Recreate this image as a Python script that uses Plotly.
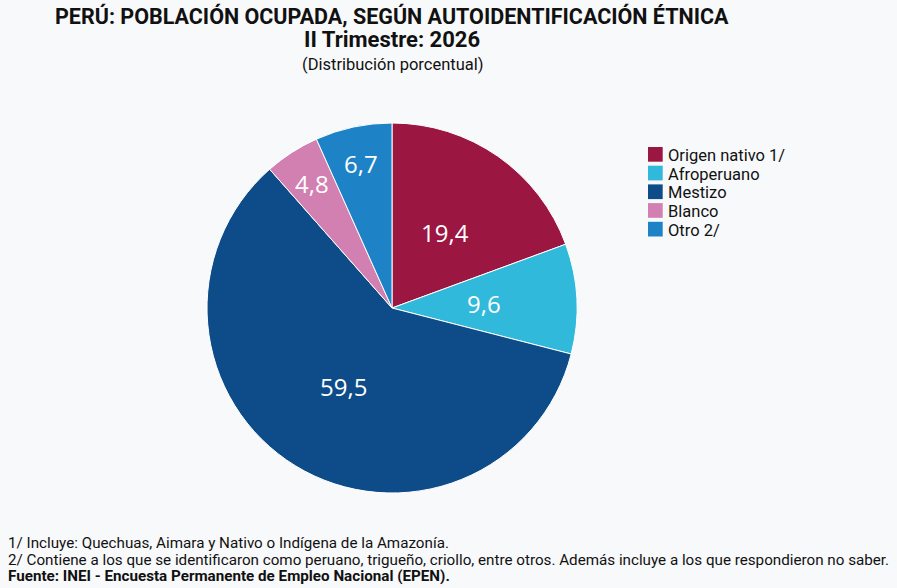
import math
import plotly.graph_objects as go

categorias = ["Origen nativo 1/", "Afroperuano", "Mestizo", "Blanco", "Otro 2/"]
valores = [19.4, 9.6, 59.5, 4.8, 6.7]
colores = ["#9b1641", "#30b9da", "#0d4c88", "#d27fb1", "#1e82c6"]

titulo = "PERÚ: POBLACIÓN OCUPADA, SEGÚN AUTOIDENTIFICACIÓN ÉTNICA"
subtitulo = "II Trimestre: 2026"
unidad = "(Distribución porcentual)"
notas = [
    "1/ Incluye: Quechuas, Aimara y Nativo o Indígena de la Amazonía.",
    "2/ Contiene a los que se identificaron como peruano, trigueño, criollo, entre otros. Además incluye a los que respondieron no saber.",
]
fuente = "Fuente: INEI - Encuesta Permanente de Empleo Nacional (EPEN)."

W, H = 897, 588
cx, cy, r = 392, 308, 185

fig = go.Figure(go.Pie(
    labels=categorias,
    values=valores,
    marker=dict(colors=colores, line=dict(color="white", width=1)),
    sort=False,
    direction="clockwise",
    rotation=0,
    textinfo="none",
    hoverinfo="label+value",
    showlegend=False,
    domain=dict(x=[(cx - r) / W, (cx + r) / W], y=[(H - cy - r) / H, (H - cy + r) / H]),
))

# etiquetas de valor colocadas en el ángulo medio de cada sector
anns = []
total = sum(valores)
acum = 0.0
for v in valores:
    mid = (acum + v / 2) / total * 2 * math.pi
    acum += v
    frac = 0.8 if v / total < 0.08 else 0.5
    px = cx + r * frac * math.sin(mid)
    py = cy - r * frac * math.cos(mid)
    anns.append(dict(text=f"{v:.1f}".replace(".", ","), x=px / W, y=1 - py / H,
                     font=dict(size=24, family="Open Sans", color="white")))

# leyenda compacta: cuadros de color + texto
paso = 18.7
ley_top = 147
sq = 14.7
shapes = []
for i, c in enumerate(colores):
    y0 = ley_top + i * paso
    shapes.append(dict(type="rect", xref="paper", yref="paper",
                       x0=648 / W, x1=(648 + sq) / W, y0=1 - (y0 + sq) / H, y1=1 - y0 / H,
                       fillcolor=c, line=dict(width=0)))
leyenda = "<br>".join(f"<span style=\"font-size:16.5px\">{cat}</span>" for cat in categorias)
centro_ley = ley_top + sq / 2 + 2 * paso + 1.5
anns.append(dict(text=leyenda, x=666 / W, y=1 - centro_ley / H, xanchor="left", align="left",
                 font=dict(size=paso / 1.3, family="Roboto", color="#111")))

# notas al pie
pie_txt = "<br>".join(
    [f"<span style=\"font-size:15.2px\">{n}</span>" for n in notas]
    + [f"<span style=\"font-size:15.2px\"><b>{fuente}</b></span>"]
)
anns.append(dict(text=pie_txt, x=6 / W, y=1 - 559 / H, xanchor="left", align="left",
                 font=dict(size=16.5 / 1.3, family="Roboto", color="#111")))

anns += [
    dict(text="<b>" + titulo + "</b>", x=392 / W, y=1 - 16 / H, font=dict(size=21.5, family="Roboto", color="#111")),
    dict(text="<b>" + subtitulo + "</b>", x=392 / W, y=1 - 40 / H, font=dict(size=22, family="Roboto", color="#111")),
    dict(text=unidad, x=392 / W, y=1 - 64 / H, font=dict(size=16.5, family="Roboto", color="#111")),
]
for a in anns:
    a.setdefault("xanchor", "center")
    a.setdefault("yanchor", "middle")
    a.update(xref="paper", yref="paper", showarrow=False)

fig.update_layout(
    width=W, height=H,
    margin=dict(l=0, r=0, t=0, b=0),
    paper_bgcolor="#f8f9fb",
    plot_bgcolor="#f8f9fb",
    separators=",.",
    annotations=anns,
    shapes=shapes,
)

fig.write_html("out.html", config={"displayModeBar": False})
with open("out.html", encoding="utf-8") as f:
    html = f.read()
html = html.replace("<head>", "<head><style>html,body{margin:0;padding:0;overflow:hidden;background:#f8f9fb}</style>", 1)
with open("out.html", "w", encoding="utf-8") as f:
    f.write(html)
